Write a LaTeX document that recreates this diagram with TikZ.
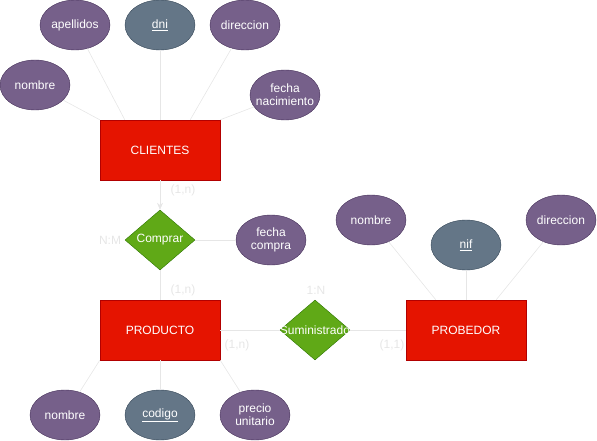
\documentclass[tikz,border=0pt]{standalone}
\usepackage{fontspec}
\setmainfont{Liberation Sans}
\usetikzlibrary{shapes.geometric,arrows.meta}
\definecolor{attrfill}{HTML}{76608A}
\definecolor{attrline}{HTML}{432D57}
\definecolor{keyfill}{HTML}{647687}
\definecolor{keyline}{HTML}{314354}
\definecolor{entfill}{HTML}{E51400}
\definecolor{entline}{HTML}{B20000}
\definecolor{relfill}{HTML}{60A917}
\definecolor{relline}{HTML}{2D7600}
\definecolor{linkgray}{HTML}{E6E6E6}

\begin{document}
\begin{tikzpicture}[x=1pt,y=-1pt,
    every node/.style={font=\fontsize{12}{13}\selectfont},
    inside/.style={text=white,align=center,inner sep=0pt},
    attr/.style={ellipse,draw=attrline,fill=attrfill,minimum width=70pt,minimum height=50pt,inner sep=0pt},
    keyattr/.style={attr,draw=keyline,fill=keyfill},
    entity/.style={rectangle,draw=entline,fill=entfill,text=white,minimum width=120pt,minimum height=60pt},
    relation/.style={diamond,draw=relline,fill=relfill,minimum width=70pt,minimum height=60pt,inner sep=0pt},
    link/.style={draw=linkgray,line width=0.6pt},
    card/.style={text=linkgray,font=\fontsize{12}{13}\selectfont}]
    \useasboundingbox (0,0) rectangle (597,441);
    % entidades
    \node[entity] (clientes) at (160,150) {CLIENTES};
    \node[entity] (producto) at (160,330) {PRODUCTO};
    \node[entity] (probedor) at (466,330) {PROBEDOR};
    % relaciones
    \node[relation,label={[inside]center:Comprar}] (comprar) at (160,240) {};
    \node[relation,label={[inside]center:Suministrado}] (suministrado) at (315,330) {};
    % atributos de clientes
    \node[attr,label={[inside]center:nombre}] (cnombre) at (35,85) {};
    \node[attr,label={[inside]center:apellidos}] (capellidos) at (75,25) {};
    \node[keyattr,label={[inside]center:\underline{dni}}] (cdni) at (160,25) {};
    \node[attr,label={[inside]center:direccion}] (cdireccion) at (245,25) {};
    \node[attr,label={[inside]center:fecha\\nacimiento}] (cfecha) at (285,95) {};
    % atributos de la relacion y de producto
    \node[attr,label={[inside]center:fecha\\compra}] (fcompra) at (271,240) {};
    \node[attr,label={[inside]center:nombre}] (pnombre) at (65,415) {};
    \node[keyattr,label={[inside]center:\underline{codigo}}] (pcodigo) at (160,415) {};
    \node[attr,label={[inside]center:precio\\unitario}] (pprecio) at (255,415) {};
    % atributos de probedor
    \node[attr,label={[inside]center:nombre}] (vnombre) at (371,220) {};
    \node[keyattr,label={[inside]center:\underline{nif}}] (vnif) at (466,245) {};
    \node[attr,label={[inside]center:direccion}] (vdireccion) at (561,220) {};
    % lineas
    \draw[link] (cnombre) -- (clientes.north west);
    \draw[link] (capellidos) -- ([xshift=25pt]clientes.north west);
    \draw[link] (cdni) -- (clientes.north);
    \draw[link] (cdireccion) -- ([xshift=-30pt]clientes.north east);
    \draw[link] (cfecha) -- (clientes.north east);
    \draw[link,-{Stealth[length=7pt,width=6pt]}] (clientes.south) -- (comprar.north);
    \draw[link] (comprar.south) -- (producto.north);
    \draw[link] (comprar.east) -- (fcompra.west);
    \draw[link] (producto.east) -- (suministrado.west);
    \draw[link] (suministrado.east) -- (probedor.west);
    \draw[link] (producto.south west) -- (pnombre);
    \draw[link] (producto.south) -- (pcodigo);
    \draw[link] (producto.south east) -- (pprecio);
    \draw[link] (vnombre) -- ([xshift=30pt]probedor.north west);
    \draw[link] (vnif) -- (probedor.north);
    \draw[link] (vdireccion) -- ([xshift=-30pt]probedor.north east);
    % cardinalidades
    \node[card] (c1) at (183,190) {(1,n)};
    \node[card] (c2) at (183,290) {(1,n)};
    \node[card] (nm) at (110,240) {N:M};
    \node[card] (un) at (316,290) {1:N};
    \node[card] (c3) at (237,345) {(1,n)};
    \node[card] (c4) at (392,345) {(1,1)};
\end{tikzpicture}
\end{document}
